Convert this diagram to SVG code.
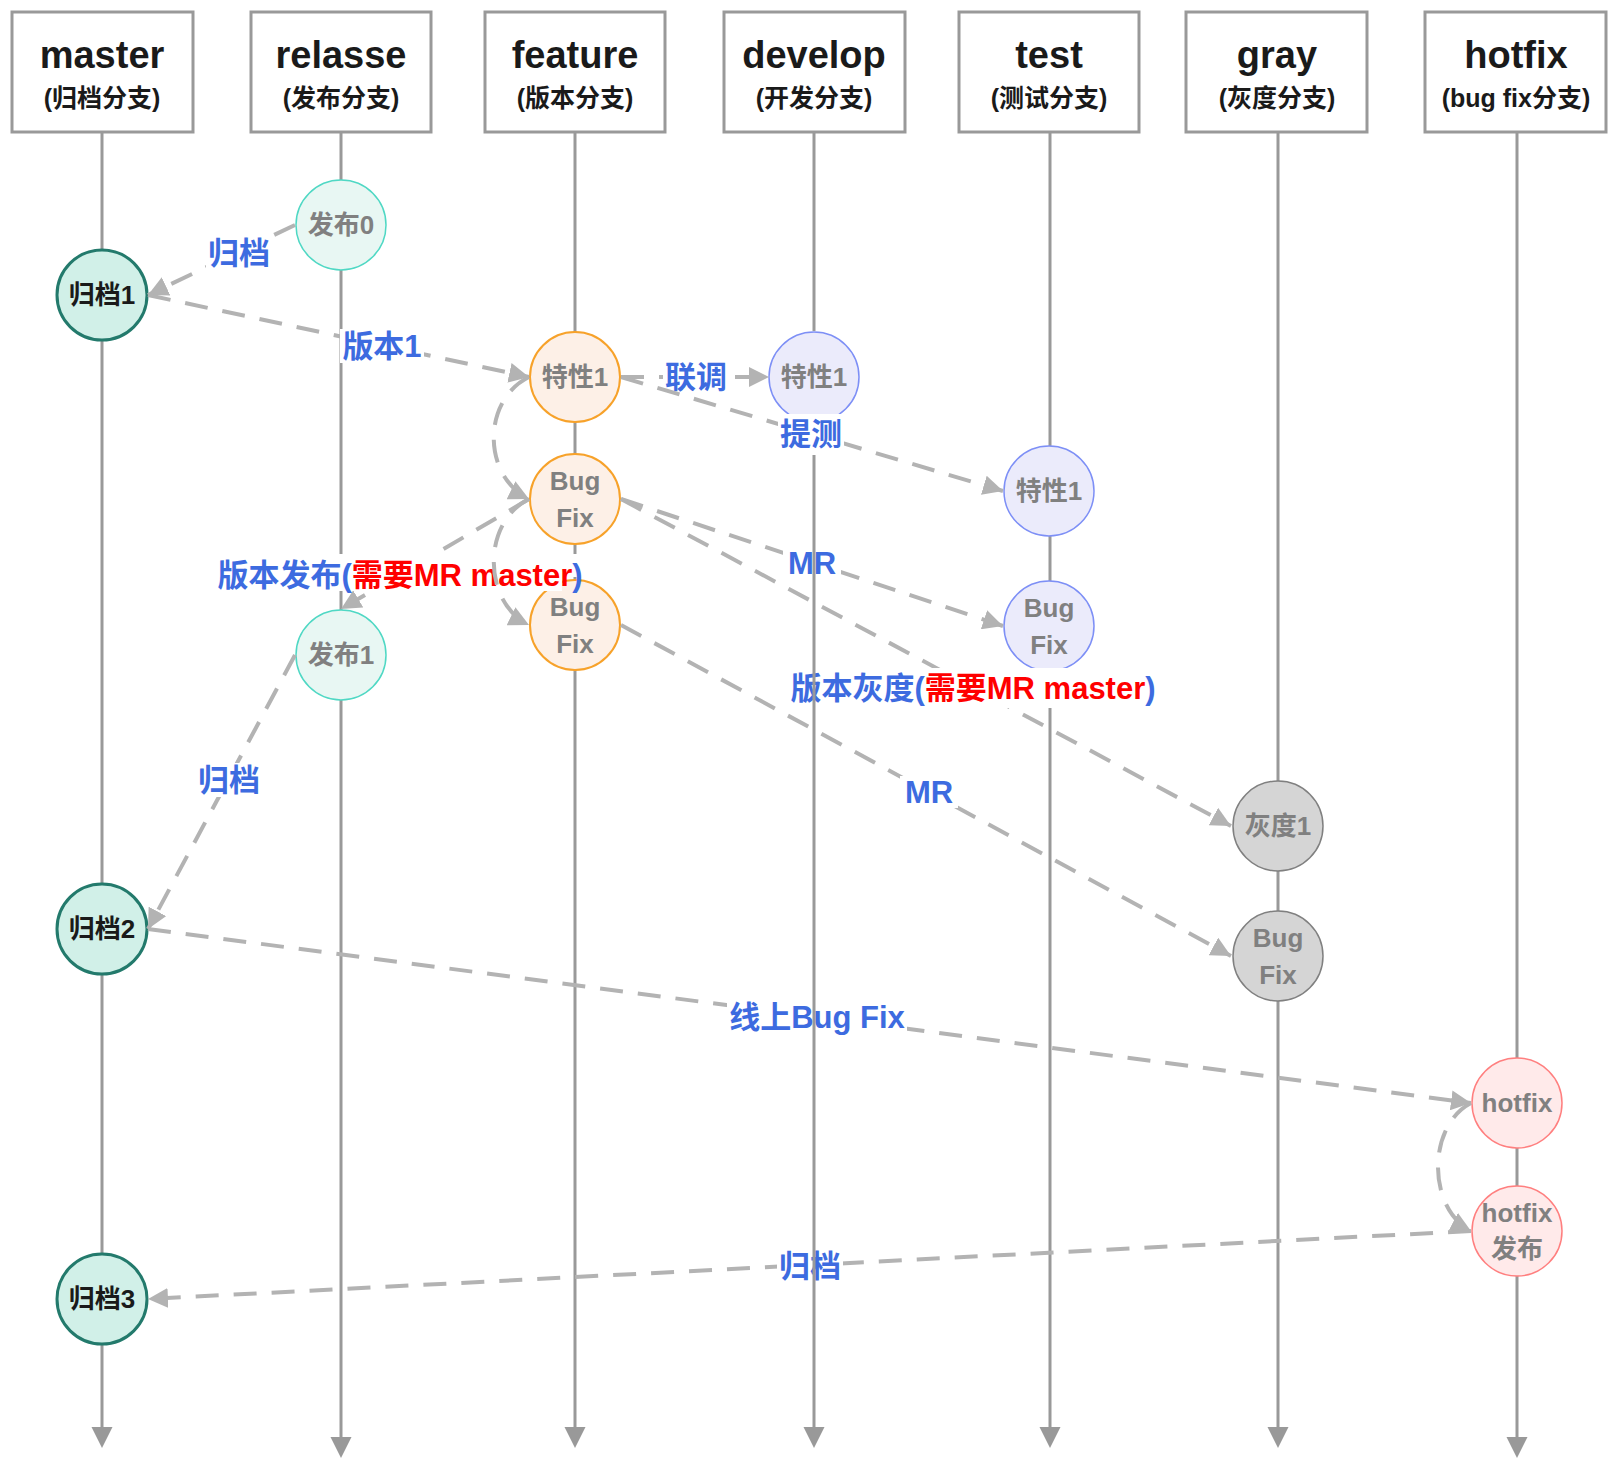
<svg xmlns="http://www.w3.org/2000/svg" width="1622" height="1472" viewBox="0 0 1622 1472">
<style>
.box{fill:#fff;stroke:#999;stroke-width:3}
.lane{stroke:#999;stroke-width:3;fill:none;marker-end:url(#larr)}
.laneseg{stroke:#999;stroke-width:3;fill:none}
.edge{fill:none;stroke:#b3b3b3;stroke-width:4;stroke-dasharray:23 15;marker-end:url(#arr)}
.lbg{fill:#fff}
.t{font-family:'Liberation Sans','Noto Sans CJK SC',sans-serif;font-weight:bold;text-anchor:middle}
.lbl{font-size:31px;fill:#3d6be0}
.red{fill:#f00}
.nt{font-size:26px;fill:#808080}
.dk{fill:#1a1a1a}
.h1{font-size:38px;fill:#1a1a1a}
.h2{font-size:25px;fill:#1a1a1a}
.master{fill:#d1f0e8;stroke:#237a6c;stroke-width:3}
.rel{fill:#e8f7f3;stroke:#4fd8c4;stroke-width:1.5}
.feat{fill:#fdf0e7;stroke:#f7a22a;stroke-width:2}
.dev{fill:#ebebfb;stroke:#7d8ff6;stroke-width:1.5}
.gray{fill:#d5d5d5;stroke:#808080;stroke-width:1.5}
.hot{fill:#ffeaea;stroke:#ff7f7f;stroke-width:1.5}
</style>
<defs>
<marker id="arr" markerUnits="userSpaceOnUse" markerWidth="21" markerHeight="20" refX="20" refY="10" orient="auto"><path d="M0,0 L20,10 L0,20 Z" fill="#b3b3b3"/></marker>
<marker id="larr" markerUnits="userSpaceOnUse" markerWidth="22" markerHeight="22" refX="13" refY="10.5" orient="auto"><path d="M0,0 L21,10.5 L0,21 Z" fill="#999"/></marker>
</defs>
<rect width="1622" height="1472" fill="#fff"/>

<g id="headers">
<g id="h-master"><rect class="box" x="12" y="12" width="181" height="120"/><text class="t h1" x="102" y="68">master</text><text class="t h2" x="102" y="107">(归档分支)</text></g>
<g id="h-relasse"><rect class="box" x="251" y="12" width="180" height="120"/><text class="t h1" x="341" y="68">relasse</text><text class="t h2" x="341" y="107">(发布分支)</text></g>
<g id="h-feature"><rect class="box" x="485" y="12" width="180" height="120"/><text class="t h1" x="575" y="68">feature</text><text class="t h2" x="575" y="107">(版本分支)</text></g>
<g id="h-develop"><rect class="box" x="724" y="12" width="181" height="120"/><text class="t h1" x="814" y="68">develop</text><text class="t h2" x="814" y="107">(开发分支)</text></g>
<g id="h-test"><rect class="box" x="959" y="12" width="180" height="120"/><text class="t h1" x="1049" y="68">test</text><text class="t h2" x="1049" y="107">(测试分支)</text></g>
<g id="h-gray"><rect class="box" x="1186" y="12" width="181" height="120"/><text class="t h1" x="1277" y="68">gray</text><text class="t h2" x="1277" y="107">(灰度分支)</text></g>
<g id="h-hotfix"><rect class="box" x="1425" y="12" width="181" height="120"/><text class="t h1" x="1516" y="68">hotfix</text><text class="t h2" x="1516" y="107">(bug fix分支)</text></g>
</g>

<g id="lanes">
<line class="lane" x1="102" y1="133" x2="102" y2="1440"/>
<line class="lane" x1="341" y1="133" x2="341" y2="1450"/>
<line class="lane" x1="575" y1="133" x2="575" y2="1440"/>
<line class="lane" x1="1050" y1="133" x2="1050" y2="1440"/>
<line class="lane" x1="1278" y1="133" x2="1278" y2="1440"/>
<line class="lane" x1="1517" y1="133" x2="1517" y2="1450"/>
</g>

<g id="nodes">
<g id="n-fabu0"><circle class="rel" cx="341" cy="225" r="45"/><text class="t nt" x="341" y="234">发布0</text></g>
<g id="n-guidang1"><circle class="master" cx="102" cy="295" r="45"/><text class="t nt dk" x="102" y="304">归档1</text></g>
<g id="n-feat1"><circle class="feat" cx="575" cy="377" r="45"/><text class="t nt" x="575" y="386">特性1</text></g>
<g id="n-dev1"><circle class="dev" cx="814" cy="377" r="45"/><text class="t nt" x="814" y="386">特性1</text></g>
<g id="n-featbug1"><circle class="feat" cx="575" cy="499" r="45"/><text class="t nt" x="575" y="490">Bug</text><text class="t nt" x="575" y="527">Fix</text></g>
<g id="n-test1"><circle class="dev" cx="1049" cy="491" r="45"/><text class="t nt" x="1049" y="500">特性1</text></g>
<g id="n-featbug2"><circle class="feat" cx="575" cy="625" r="45"/><text class="t nt" x="575" y="616">Bug</text><text class="t nt" x="575" y="653">Fix</text></g>
<g id="n-testbug"><circle class="dev" cx="1049" cy="626" r="45"/><text class="t nt" x="1049" y="617">Bug</text><text class="t nt" x="1049" y="654">Fix</text></g>
<g id="n-fabu1"><circle class="rel" cx="341" cy="655" r="45"/><text class="t nt" x="341" y="664">发布1</text></g>
<g id="n-gray1"><circle class="gray" cx="1278" cy="826" r="45"/><text class="t nt" x="1278" y="835">灰度1</text></g>
<g id="n-graybug"><circle class="gray" cx="1278" cy="956" r="45"/><text class="t nt" x="1278" y="947">Bug</text><text class="t nt" x="1278" y="984">Fix</text></g>
<g id="n-guidang2"><circle class="master" cx="102" cy="929" r="45"/><text class="t nt dk" x="102" y="938">归档2</text></g>
<g id="n-hotfix"><circle class="hot" cx="1517" cy="1103" r="45"/><text class="t nt" x="1517" y="1112">hotfix</text></g>
<g id="n-hotfixrel"><circle class="hot" cx="1517" cy="1231" r="45"/><text class="t nt" x="1517" y="1222">hotfix</text><text class="t nt" x="1517" y="1258">发布</text></g>
<g id="n-guidang3"><circle class="master" cx="102" cy="1299" r="45"/><text class="t nt dk" x="102" y="1308">归档3</text></g>
</g>

<g id="connectors">
<g id="e1"><path class="edge" d="M295,225 L148,295"/><rect class="lbg" x="206" y="236" width="66" height="34"/><text class="t lbl" x="239" y="264">归档</text></g>
<g id="e2"><path class="edge" d="M148,295 L529,377"/><rect class="lbg" x="340" y="329" width="84" height="34"/><text class="t lbl" x="382" y="357">版本1</text></g>
<g id="e3"><path class="edge" d="M621,377 L769,377"/><rect class="lbg" x="663" y="360" width="66" height="34"/><text class="t lbl" x="696" y="388">联调</text></g>
<g id="e4"><path class="edge" d="M621,377 L1003,491"/><rect class="lbg" x="778" y="414" width="66" height="41"/><text class="t lbl" x="811" y="445">提测</text></g>
<g id="e5"><path class="edge" d="M529,377 C482,400 482,476 529,499"/></g>
<g id="e6"><path class="edge" d="M529,499 L341,609"/><rect class="lbg" x="211" y="554" width="351" height="37"/><rect class="lbg" x="560" y="554" width="29" height="23"/><text class="t lbl" x="400" y="586">版本发布(<tspan class="red">需要MR master</tspan>)</text></g>
<g id="e7"><path class="edge" d="M529,499 C482,522 482,602 529,625"/></g>
<g id="e8"><path class="edge" d="M621,499 L1003,626"/><rect class="lbg" x="783" y="547" width="58" height="32"/><text class="t lbl" x="812" y="574">MR</text></g>
<g id="e9"><path class="edge" d="M621,499 L1231,826"/><rect class="lbg" x="786" y="668" width="375" height="40"/><text class="t lbl" x="973" y="699">版本灰度(<tspan class="red">需要MR master</tspan>)</text></g>
<g id="e10"><path class="edge" d="M621,625 L1231,956"/><rect class="lbg" x="900" y="776" width="58" height="32"/><text class="t lbl" x="929" y="803">MR</text></g>
<g id="e11"><path class="edge" d="M295,655 L148,929"/><rect class="lbg" x="196" y="763" width="66" height="34"/><text class="t lbl" x="229" y="791">归档</text></g>
<g id="e12"><path class="edge" d="M148,929 L1471,1103"/><rect class="lbg" x="727" y="1000" width="180" height="34"/><text class="t lbl" x="817" y="1028">线上Bug Fix</text></g>
<g id="e13"><path class="edge" d="M1471,1103 C1427,1126 1427,1208 1471,1231"/></g>
<g id="e14"><path class="edge" d="M1471,1231 L148,1299"/><rect class="lbg" x="777" y="1249" width="66" height="34"/><text class="t lbl" x="810" y="1277">归档</text></g>
</g>

<g id="lane-develop">
<line class="laneseg" x1="814" y1="133" x2="814" y2="331"/>
<line class="lane" x1="814" y1="455" x2="814" y2="1440"/>
</g>
</svg>
